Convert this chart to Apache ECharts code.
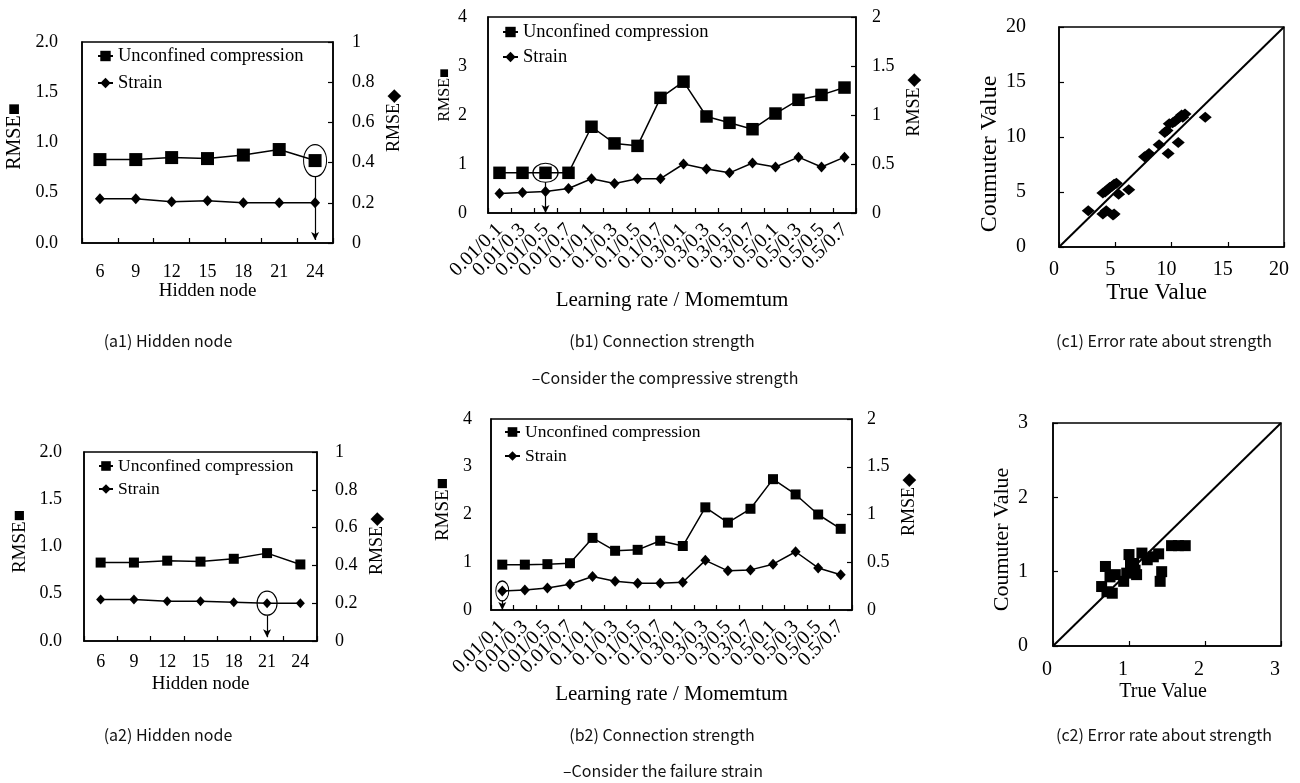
<!DOCTYPE html>
<html><head><meta charset="utf-8">
<script src="https://cdn.jsdelivr.net/npm/echarts@6/dist/echarts.min.js"></script>
<style>html,body{margin:0;padding:0;background:#fff}#c{width:1300px;height:783px}</style>
</head><body><div id="c"></div>
<script>
// ---------------- data ----------------
const hiddenNodes = ['6','9','12','15','18','21','24'];
const a1Compression = [0.83,0.83,0.85,0.84,0.875,0.93,0.82];
const a1Strain      = [0.22,0.22,0.205,0.21,0.20,0.20,0.20];
const a2Compression = [0.83,0.83,0.85,0.84,0.87,0.93,0.81];
const a2Strain      = [0.22,0.22,0.21,0.21,0.205,0.20,0.20];

const lrMomentum = ['0.01/0.1','0.01/0.3','0.01/0.5','0.01/0.7','0.1/0.1','0.1/0.3','0.1/0.5','0.1/0.7',
                    '0.3/0.1','0.3/0.3','0.3/0.5','0.3/0.7','0.5/0.1','0.5/0.3','0.5/0.5','0.5/0.7'];
const b1Compression = [0.82,0.82,0.82,0.82,1.76,1.42,1.37,2.35,2.68,1.97,1.84,1.71,2.03,2.31,2.41,2.56];
const b1Strain      = [0.20,0.21,0.22,0.25,0.35,0.30,0.35,0.35,0.50,0.45,0.41,0.51,0.47,0.57,0.47,0.57];
const b2Compression = [0.95,0.95,0.96,0.98,1.51,1.24,1.26,1.45,1.34,2.15,1.83,2.12,2.74,2.42,2.00,1.70];
const b2Strain      = [0.20,0.21,0.23,0.27,0.35,0.30,0.28,0.28,0.29,0.52,0.41,0.42,0.48,0.61,0.44,0.37];

// [true value, computed value]
const c1Points = [[2.6,3.3],[3.9,3.0],[4.2,3.3],[4.8,2.9],[4.9,3.0],[3.9,4.9],[4.1,5.0],[4.3,5.2],[4.5,5.4],
  [4.7,5.5],[4.9,5.7],[5.1,5.8],[5.3,4.8],[6.2,5.2],[7.6,8.2],[8.0,8.5],[8.9,9.3],[9.7,8.5],[10.6,9.5],
  [9.4,10.4],[9.6,10.6],[9.8,11.2],[10.1,11.3],[10.3,11.4],[10.6,11.7],[10.9,12.0],[11.2,12.1],[11.0,11.8],[13.0,11.8]];
const c2Points = [[0.69,1.07],[0.64,0.80],[0.71,0.73],[0.78,0.71],[0.75,0.93],[0.82,0.96],[0.93,0.87],
  [1.00,1.23],[1.02,1.11],[1.08,1.02],[1.10,0.96],[1.17,1.25],[1.24,1.16],[1.32,1.20],[1.39,1.24],
  [1.41,0.87],[1.43,1.00],[1.56,1.35],[1.65,1.35],[1.74,1.35],[1.06,1.11],[0.97,0.98]];
const c1Diagonal = [[0,0],[20,20]];
const c2Diagonal = [[0,0],[3,3]];

const seriesNames = ['Unconfined compression','Strain'];

// ---------------- helpers ----------------
const SERIF = '"Liberation Serif","Times New Roman",serif';
const SANS = '"Noto Sans CJK KR","Noto Sans",sans-serif';
const BLACK = '#000';

function catAxis(g, cats, o) {
  return {
    type:'category', gridIndex:g, data:cats, boundaryGap:true,
    axisLine:{show:true, lineStyle:{color:BLACK, width:1.5}},
    axisTick:{show:true, inside:true, length:5, interval:0, lineStyle:{color:BLACK, width:1.2}},
    axisLabel:Object.assign({interval:0, color:BLACK, fontFamily:SERIF, fontSize:18, hideOverlap:false}, o.label),
    name:o.name, nameLocation:'middle', nameGap:o.nameGap,
    nameTextStyle:Object.assign({color:BLACK, fontFamily:SERIF, fontSize:19}, o.nameStyle||{}),
    splitLine:{show:false}
  };
}
function valAxis(g, min, max, interval, o) {
  const ax = {
    type:'value', gridIndex:g, min:min, max:max, interval:interval, position:o.position,
    axisLine:{show:true, onZero:false, lineStyle:{color:BLACK, width:1.5}},
    axisTick:{show:!!o.tick, inside:true, length:5, lineStyle:{color:BLACK, width:1.2}},
    axisLabel:Object.assign({color:BLACK, fontFamily:SERIF, fontSize:18}, o.label||{}),
    splitLine:{show:false}
  };
  if (o.name) {
    ax.name = o.name; ax.nameLocation = 'middle'; ax.nameGap = o.nameGap;
    if (o.rotate !== undefined) ax.nameRotate = o.rotate;
    ax.nameTextStyle = Object.assign({color:BLACK, fontFamily:SERIF, fontSize:19}, o.nameStyle||{});
  }
  return ax;
}
const fix1 = v => v.toFixed(1);

function lineSeries(name, xi, yi, data, sym, size, extra) {
  return Object.assign({
    type:'line', name:name, xAxisIndex:xi, yAxisIndex:yi, data:data,
    symbol:sym, symbolSize:size, showAllSymbol:true,
    lineStyle:{color:BLACK, width:1.5}, itemStyle:{color:BLACK},
    emphasis:{disabled:true}, z:3
  }, extra||{});
}
function circleMark(idx, val, w, h) {
  return {symbol:'circle', symbolSize:[w,h], silent:true,
    itemStyle:{color:'rgba(0,0,0,0)', borderColor:BLACK, borderWidth:1.2},
    label:{show:false}, data:[{coord:[idx, val]}]};
}
function arrowMark(idx, from, to) {
  return {silent:true, symbol:['none','arrow'], symbolSize:[6,8],
    lineStyle:{color:BLACK, width:1.2, type:'solid'}, label:{show:false}, emphasis:{disabled:true},
    data:[[{coord:[idx, from]},{coord:[idx, to]}]]};
}
function legendAt(left, top, font, gap, iw, ih) {
  return {data:seriesNames, orient:'vertical', left:left, top:top, itemGap:gap,
    itemWidth:iw, itemHeight:ih, padding:0, selectedMode:false,
    textStyle:{color:BLACK, fontFamily:SERIF, fontSize:font, lineHeight:20}};
}

const grid = [
  {left:82,  top:42,  width:251, height:201},  // a1
  {left:488, top:17,  width:368, height:196},  // b1
  {left:1059,top:27,  width:225, height:220},  // c1
  {left:84,  top:452, width:233, height:189},  // a2
  {left:491, top:419, width:361, height:191},  // b2
  {left:1053,top:423, width:228, height:223}   // c2
].map(g => Object.assign({show:true, borderColor:BLACK, borderWidth:1.5, backgroundColor:'rgba(0,0,0,0)'}, g));

const xAxis = [
  catAxis(0, hiddenNodes, {label:{margin:20}, name:'Hidden node', nameGap:38}),
  catAxis(1, lrMomentum, {label:{rotate:45, margin:14, fontSize:20}, name:'Learning rate / Momemtum', nameGap:77, nameStyle:{fontSize:21}}),
  valAxis(2, 0, 20, 5, {position:'bottom', tick:true, label:{fontSize:20, margin:13, padding:[0,10,0,0]},
    name:'True Value', nameGap:34, nameStyle:{fontSize:23, padding:[0,30,0,0]}}),
  catAxis(3, hiddenNodes, {label:{margin:12}, name:'Hidden node', nameGap:34}),
  catAxis(4, lrMomentum, {label:{rotate:45, margin:14, fontSize:20}, name:'Learning rate / Momemtum', nameGap:74, nameStyle:{fontSize:21}}),
  valAxis(5, 0, 3, 1, {position:'bottom', tick:true, label:{fontSize:20, margin:14, padding:[0,12,0,0]},
    name:'True Value', nameGap:36, nameStyle:{fontSize:20, padding:[0,8,0,0]}})
];

const yAxis = [
  valAxis(0, 0, 2, 0.5, {position:'left', label:{margin:24, formatter:fix1}, name:'RMSE■', nameGap:57, rotate:90, nameStyle:{fontSize:20, padding:[0,0,0,12]}}),
  valAxis(0, 0, 1, 0.2, {position:'right', tick:true, label:{margin:19}, name:'RMSE◆', nameGap:52, rotate:90, nameStyle:{fontSize:18, padding:[0,0,0,44]}}),
  valAxis(1, 0, 4, 1, {position:'left', label:{margin:21}, name:'RMSE■', nameGap:35, rotate:90, nameStyle:{fontSize:16, padding:[0,0,0,40]}}),
  valAxis(1, 0, 2, 0.5, {position:'right', tick:true, label:{margin:16}, name:'RMSE◆', nameGap:49, rotate:90, nameStyle:{fontSize:18, padding:[0,0,0,20]}}),
  valAxis(2, 0, 20, 5, {position:'left', tick:true, label:{fontSize:20, margin:33}, name:'Coumuter Value', nameGap:56, rotate:90, nameStyle:{fontSize:24, padding:[0,34,0,0]}}),
  valAxis(3, 0, 2, 0.5, {position:'left', label:{margin:22, formatter:fix1}, name:'RMSE■', nameGap:54, rotate:90, nameStyle:{fontSize:19, padding:[0,0,0,10]}}),
  valAxis(3, 0, 1, 0.2, {position:'right', tick:true, label:{margin:18}, name:'RMSE◆', nameGap:51, rotate:90, nameStyle:{fontSize:18, padding:[0,0,0,6]}}),
  valAxis(4, 0, 4, 1, {position:'left', label:{margin:19}, name:'RMSE■', nameGap:38, rotate:90, nameStyle:{fontSize:19, padding:[0,0,0,10]}}),
  valAxis(4, 0, 2, 0.5, {position:'right', tick:true, label:{margin:15}, name:'RMSE◆', nameGap:48, rotate:90, nameStyle:{fontSize:18, padding:[0,0,0,20]}}),
  valAxis(5, 0, 3, 1, {position:'left', tick:true, label:{fontSize:20, margin:25}, name:'Coumuter Value', nameGap:40, rotate:90, nameStyle:{fontSize:22, padding:[0,10,0,0]}})
];

const series = [
  // a1
  lineSeries(seriesNames[0], 0, 0, a1Compression, 'rect', 13, {
    markPoint:circleMark(6, a1Compression[6], 23, 32), markLine:arrowMark(6, a1Compression[6]-0.16, 0.03)}),
  lineSeries(seriesNames[1], 0, 1, a1Strain, 'diamond', [10,11]),
  // b1
  lineSeries(seriesNames[0], 1, 2, b1Compression, 'rect', 12.5, {
    markPoint:circleMark(2, b1Compression[2], 25, 19), markLine:arrowMark(2, b1Compression[2]-0.19, 0.0)}),
  lineSeries(seriesNames[1], 1, 3, b1Strain, 'diamond', [10,11]),
  // c1
  {type:'scatter', xAxisIndex:2, yAxisIndex:4, data:c1Points, symbol:'diamond', symbolSize:[13,11],
   itemStyle:{color:BLACK, opacity:1}, emphasis:{disabled:true}, z:2},
  {type:'line', xAxisIndex:2, yAxisIndex:4, data:c1Diagonal, showSymbol:false, symbol:'none',
   lineStyle:{color:BLACK, width:2}, emphasis:{disabled:true}, z:4},
  // a2
  lineSeries(seriesNames[0], 3, 5, a2Compression, 'rect', 10),
  lineSeries(seriesNames[1], 3, 6, a2Strain, 'diamond', [9,10], {
    markPoint:circleMark(5, a2Strain[5], 20, 24), markLine:arrowMark(5, a2Strain[5]-0.065, 0.02)}),
  // b2
  lineSeries(seriesNames[0], 4, 7, b2Compression, 'rect', 10),
  lineSeries(seriesNames[1], 4, 8, b2Strain, 'diamond', [10,11], {
    markPoint:circleMark(0, b2Strain[0], 13, 20), markLine:arrowMark(0, b2Strain[0]-0.1, 0.0)}),
  // c2
  {type:'scatter', xAxisIndex:5, yAxisIndex:9, data:c2Points, symbol:'rect', symbolSize:11,
   itemStyle:{color:BLACK, opacity:1}, emphasis:{disabled:true}, z:2},
  {type:'line', xAxisIndex:5, yAxisIndex:9, data:c2Diagonal, showSymbol:false, symbol:'none',
   lineStyle:{color:BLACK, width:2}, emphasis:{disabled:true}, z:4}
];

const capFont = '16px ' + SANS;
function caption(x, y, t) {
  return {type:'text', x:x, y:y, silent:true,
    style:{text:t, font:capFont, fill:'#111', align:'center', verticalAlign:'middle', textAlign:'center', textVerticalAlign:'middle'}};
}

const chart = echarts.init(document.getElementById('c'), null, {renderer:'canvas'});
chart.setOption({
  animation:false,
  backgroundColor:'#fff',
  textStyle:{fontFamily:SERIF, color:BLACK},
  grid:grid, xAxis:xAxis, yAxis:yAxis, series:series,
  legend:[
    legendAt(97, 46, 18.5, 7, 15, 13),
    legendAt(502, 22, 18.5, 5, 15, 13),
    legendAt(98, 456, 17.5, 3, 14, 12),
    legendAt(504, 422, 17.5, 4, 15, 12)
  ],
  graphic:[
    caption(168, 341, '(a1) Hidden node'),
    caption(662, 341, '(b1) Connection strength'),
    caption(1164, 341, '(c1) Error rate about strength'),
    caption(665, 378, '–Consider the compressive strength'),
    caption(168, 735, '(a2) Hidden node'),
    caption(662, 735, '(b2) Connection strength'),
    caption(1164, 735, '(c2) Error rate about strength'),
    caption(663, 771, '–Consider the failure strain')
  ]
});
</script></body></html>
